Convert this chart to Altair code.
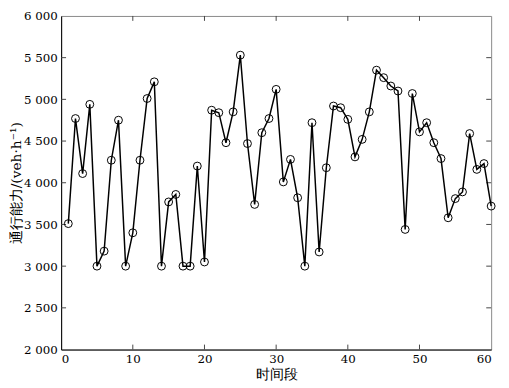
import altair as alt
import pandas as pd

periods = list(range(1, 61))
capacity = [
    3510, 4770, 4110, 4940, 3000, 3180, 4270, 4750, 3000, 3400,
    4270, 5010, 5210, 3000, 3770, 3860, 3000, 3000, 4200, 3050,
    4870, 4840, 4480, 4850, 5530, 4470, 3740, 4600, 4770, 5120,
    4010, 4280, 3820, 3000, 4720, 3170, 4180, 4920, 4900, 4760,
    4310, 4520, 4850, 5350, 5260, 5160, 5100, 3440, 5070, 4610,
    4720, 4480, 4290, 3580, 3810, 3890, 4590, 4160, 4230, 3720,
]
x_ticks = [0, 10, 20, 30, 40, 50, 60]
y_ticks = [2000, 2500, 3000, 3500, 4000, 4500, 5000, 5500, 6000]
x_inner = [10, 20, 30, 40, 50]
y_inner = [2500, 3000, 3500, 4000, 4500, 5000, 5500]

W, H = 437, 339
FONT = "DejaVu Serif"

df = pd.DataFrame({"t": periods, "v": capacity})
xs = alt.Scale(domain=[0, 60], nice=False)
ys = alt.Scale(domain=[2000, 6000], nice=False)

base = alt.Chart(df)
line = base.mark_line(color="black", strokeWidth=1.5).encode(
    x=alt.X("t:Q", scale=xs,
            axis=alt.Axis(values=x_ticks, ticks=False, grid=False, title="时间段",
                          labelPadding=4, domainColor="black", titlePadding=3,
                          labelFont=FONT, titleFont=FONT,
                          labelExpr="datum.value")),
    y=alt.Y("v:Q", scale=ys,
            axis=alt.Axis(values=y_ticks, ticks=False, grid=False,
                          title="通行能力/(veh·h⁻¹)", labelPadding=4,
                          domainColor="black", titlePadding=0,
                          labelFont=FONT, titleFont=FONT,
                          labelExpr="replace(format(datum.value, ','), ',', ' ')")),
)
pts = base.mark_point(shape="circle", filled=False, color="black", size=64,
                      strokeWidth=1, opacity=1).encode(
    x=alt.X("t:Q", scale=xs), y=alt.Y("v:Q", scale=ys))

xt = pd.DataFrame({"t": x_inner})
yt = pd.DataFrame({"v": y_inner})
tick_color = "#444"
xb = alt.Chart(xt).mark_rule(color=tick_color, strokeWidth=1).encode(
    x=alt.X("t:Q", scale=xs), y=alt.value(H - 5), y2=alt.value(H))
xtop = alt.Chart(xt).mark_rule(color=tick_color, strokeWidth=1).encode(
    x=alt.X("t:Q", scale=xs), y=alt.value(0), y2=alt.value(5))
yl = alt.Chart(yt).mark_rule(color=tick_color, strokeWidth=1).encode(
    y=alt.Y("v:Q", scale=ys), x=alt.value(0), x2=alt.value(5))
yr = alt.Chart(yt).mark_rule(color=tick_color, strokeWidth=1).encode(
    y=alt.Y("v:Q", scale=ys), x=alt.value(W - 5), x2=alt.value(W))

chart = alt.layer(xb, xtop, yl, yr, line, pts).properties(
    width=W, height=H,
    autosize=alt.AutoSizeParams(type="none"),
    padding={"left": 54, "top": 5, "right": 10, "bottom": 36},
    background="white",
).configure(font=FONT).configure_view(stroke="#888", strokeWidth=1).configure_axis(
    labelFontSize=12, titleFontSize=14,
    labelColor="black", titleColor="black", titleFontWeight="normal",
    domainWidth=1,
)

chart.save("out.html", embed_options={"renderer": "svg", "actions": False})
